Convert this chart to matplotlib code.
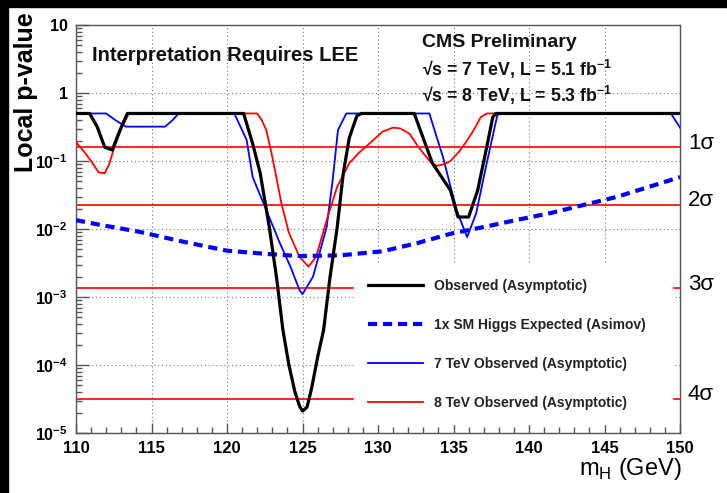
import math
import matplotlib
matplotlib.use("Agg")
import matplotlib.pyplot as plt
from matplotlib.patches import Rectangle
from matplotlib.ticker import MultipleLocator, FuncFormatter, LogLocator, NullFormatter
import matplotlib.transforms as mtransforms

plt.rcParams['font.family'] = ['Liberation Sans', 'DejaVu Sans']

# combined observed local p-value
obs_mass = [110.0, 110.9, 111.4, 111.9, 112.4, 112.9, 113.4, 121.1, 121.7, 122.2,
            122.8, 123.3, 123.7, 124.1, 124.5, 124.8, 125.0, 125.3, 125.6, 126.0,
            126.4, 126.8, 127.3, 127.7, 128.1, 128.6, 128.9, 132.4, 133.6, 134.8,
            135.3, 136.0, 136.6, 137.2, 137.6, 137.8, 150.0]
obs_p = [0.5, 0.5, 0.32, 0.16, 0.145, 0.28, 0.5, 0.5, 0.18, 0.066,
         0.0107, 1.8e-3, 3.3e-4, 1.0e-4, 4.0e-5, 2.5e-5, 2.1e-5, 2.4e-5, 4.5e-5, 1.3e-4,
         3.3e-4, 1.8e-3, 0.0107, 0.066, 0.22, 0.46, 0.5, 0.5, 0.093, 0.037,
         0.015, 0.015, 0.037, 0.16, 0.44, 0.5, 0.5]

# expected for a 1x SM Higgs (Asimov)
exp_mass = [110.0, 111.6, 114.2, 117.1, 120.0, 122.6, 124.8, 127.5, 130.3, 132.6,
            134.8, 137.0, 139.2, 141.4, 143.6, 145.8, 148.0, 150.0]
exp_p = [0.0135, 0.0115, 0.0091, 0.0065, 0.0048, 0.0043, 0.0040, 0.0041, 0.0047, 0.0062,
         0.0085, 0.0107, 0.0136, 0.0171, 0.0225, 0.0296, 0.042, 0.058]

# 7 TeV observed
obs7_mass = [110.0, 112.0, 112.6, 113.3, 115.9, 116.4, 116.8, 120.5, 121.3, 121.7,
             122.6, 123.5, 124.2, 124.8, 125.0, 125.7, 126.6, 127.0, 127.35, 127.9,
             133.4, 134.3, 135.2, 135.9, 136.5, 137.2, 137.9, 138.1, 149.4, 150.0]
obs7_p = [0.5, 0.5, 0.4, 0.32, 0.32, 0.4, 0.5, 0.49, 0.204, 0.058,
          0.019, 0.0062, 2.8e-3, 1.27e-3, 1.1e-3, 2.0e-3, 0.0107, 0.053, 0.286, 0.5,
          0.5, 0.115, 0.019, 0.0076, 0.017, 0.093, 0.47, 0.5, 0.5, 0.31]

# 8 TeV observed
obs8_mass = [110.0, 110.5, 111.0, 111.5, 111.9, 112.2, 112.5, 113.0, 113.5, 122.0,
             122.3, 122.6, 123.0, 123.6, 124.1, 124.8, 125.4, 125.9, 126.6, 127.3,
             128.1, 128.7, 129.3, 130.3, 131.0, 131.5, 132.1, 132.6, 133.0, 133.5,
             133.9, 134.4, 134.8, 135.4, 135.9, 136.4, 136.8, 137.2, 150.0]
obs8_p = [0.19, 0.14, 0.1, 0.068, 0.066, 0.09, 0.15, 0.3, 0.5, 0.5,
          0.4, 0.286, 0.115, 0.024, 8.8e-3, 3.9e-3, 2.8e-3, 3.9e-3, 0.0135, 0.042,
          0.093, 0.13, 0.17, 0.27, 0.31, 0.3, 0.25, 0.17, 0.13, 0.095,
          0.085, 0.09, 0.10, 0.14, 0.2, 0.3, 0.44, 0.5, 0.5]

# one-sided p-values of the 1-4 sigma levels
sigma_labels = ['1σ', '2σ', '3σ', '4σ']
sigma_p = [0.1587, 0.02275, 1.35e-3, 3.167e-5]

W, H = 727, 493
fig = plt.figure(figsize=(W / 100, H / 100), dpi=100)
fig.patch.set_facecolor('white')
# dark border on the top and left edge
fig.patches.append(Rectangle((0, 1 - 7 / H), 1, 7 / H, transform=fig.transFigure,
                             color='black', zorder=0))
fig.patches.append(Rectangle((0, 0), 8 / W, 1, transform=fig.transFigure,
                             color='black', zorder=0))

ax = fig.add_axes([76 / W, 1 - 433 / H, 604 / W, 408 / H])
ax.set_yscale('log')
ax.set_xlim(110, 150)
ax.set_ylim(1e-5, 10)

for p in sigma_p:
    ax.axhline(p, color='#ff0000', lw=1.2, zorder=2)

l_obs, = ax.plot(obs_mass, obs_p, color='black', lw=2.3, zorder=5,
                 label='Observed (Asymptotic)')
l_exp, = ax.plot(exp_mass, exp_p, color='#0000ff', lw=3.0, ls=(0, (2.2, 1.4)), zorder=4,
                 label='1x SM Higgs Expected (Asimov)')
l_7, = ax.plot(obs7_mass, obs7_p, color='#0000ff', lw=1.3, zorder=3,
               label='7 TeV Observed (Asymptotic)')
l_8, = ax.plot(obs8_mass, obs8_p, color='#ff0000', lw=1.3, zorder=3,
               label='8 TeV Observed (Asymptotic)')

# grid and ticks
ax.xaxis.set_major_locator(MultipleLocator(5))
ax.xaxis.set_minor_locator(MultipleLocator(1))
ax.yaxis.set_major_locator(LogLocator(base=10, numticks=10))
ax.yaxis.set_minor_locator(LogLocator(base=10, subs=range(2, 10), numticks=10))
ax.yaxis.set_minor_formatter(NullFormatter())


def ylab(v, pos):
    e = int(round(math.log10(v)))
    if e == 1:
        return '10'
    if e == 0:
        return '1'
    return r'$\mathregular{10^{%d}}$' % e


ax.yaxis.set_major_formatter(FuncFormatter(ylab))
ax.grid(True, which='major', color='#777777', lw=0.8, ls=(0, (1, 2.5)))
ax.tick_params(which='both', direction='in', top=False, right=False, color='#555555')
ax.tick_params(axis='x', which='major', length=7, width=1, pad=6, labelsize=12)
ax.tick_params(axis='x', which='minor', length=4, width=1)
ax.tick_params(axis='y', which='major', length=9, width=1, pad=6, labelsize=11.5)
ax.tick_params(axis='y', which='minor', length=4.5, width=1)
for lbl in ax.get_xticklabels() + ax.get_yticklabels():
    lbl.set_fontweight('bold')
for s in ax.spines.values():
    s.set_color('#555555')
    s.set_linewidth(1)

# legend on a white panel hiding the lines behind it
leg = ax.legend(handles=[l_obs, l_exp, l_7, l_8], loc='upper left',
                bbox_to_anchor=(0.46, 0.0, 0.5275, 0.412), mode='expand',
                borderaxespad=0, frameon=True, fancybox=False, framealpha=1,
                edgecolor='white', facecolor='white', fontsize=10,
                handlelength=4.0, handletextpad=0.8, labelspacing=1.8, borderpad=1.0)
leg.set_zorder(10)
for t in leg.get_texts():
    t.set_fontweight('bold')
    t.set_color('#222222')

# sigma level labels outside the frame
off = mtransforms.ScaledTranslation(0, -1 / 72, fig.dpi_scale_trans)
trans = mtransforms.blended_transform_factory(ax.transAxes, ax.transData) + off
for lab, p in zip(sigma_labels, sigma_p):
    ax.text(1.013, p, lab, transform=trans, ha='left', va='baseline', fontsize=16)

ax.text(0.026, 0.926, 'Interpretation Requires LEE', transform=ax.transAxes,
        fontsize=14.5, fontweight='bold', va='center', color='#111111')
ax.text(0.573, 0.958, 'CMS Preliminary', transform=ax.transAxes,
        fontsize=14, fontweight='bold', va='center', color='#111111')
ax.text(0.573, 0.89, r'√s = 7 TeV, L = 5.1 fb$^{\mathregular{-1}}$', transform=ax.transAxes,
        fontsize=12.8, fontweight='bold', va='center', color='#111111')
ax.text(0.573, 0.828, r'√s = 8 TeV, L = 5.3 fb$^{\mathregular{-1}}$', transform=ax.transAxes,
        fontsize=12.8, fontweight='bold', va='center', color='#111111')

fig.text(26 / W, 1 - 92 / H, 'Local p-value', rotation=90, ha='center', va='center',
         fontsize=18, fontweight='bold')
fig.text(682 / W, 1 - 469 / H, r'm$_{\mathregular{H}}$ (GeV)', ha='right', va='center',
         fontsize=17)

fig.savefig('out.png', dpi=100)
